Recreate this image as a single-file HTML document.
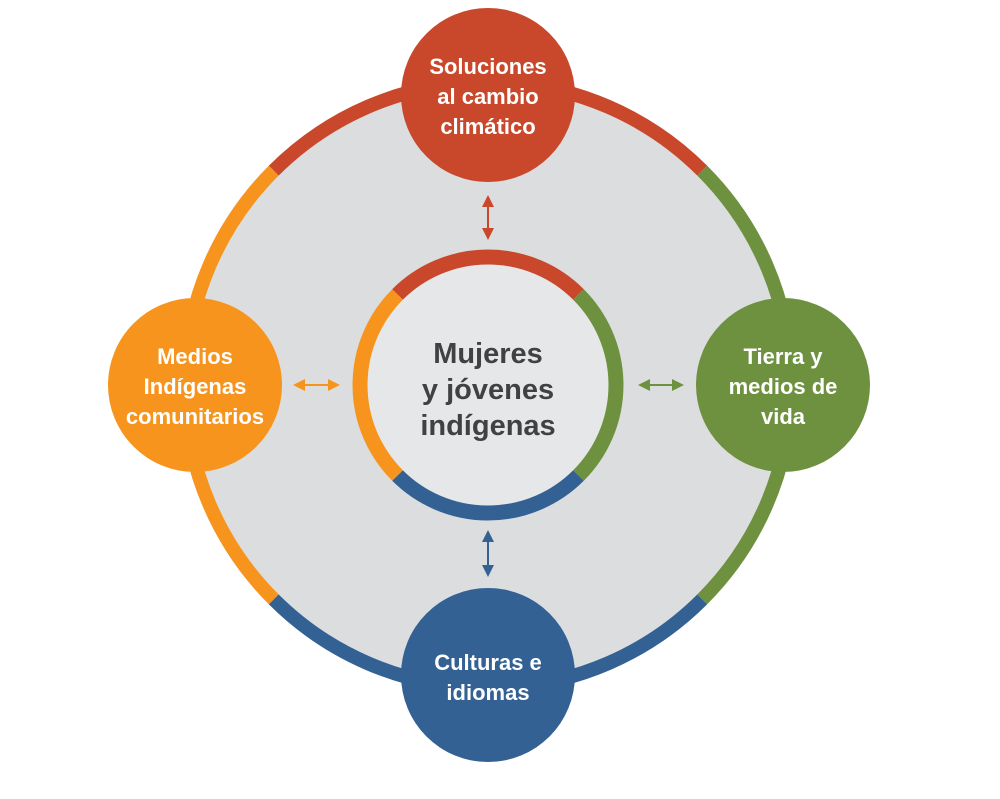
<!DOCTYPE html>
<html><head><meta charset="utf-8"><style>html,body{margin:0;padding:0;background:#fff}svg{display:block}</style></head>
<body>
<svg width="1000" height="799" viewBox="0 0 1000 799" xmlns="http://www.w3.org/2000/svg" font-family="Liberation Sans, sans-serif" font-weight="bold">
<defs>
<marker id="r" markerWidth="6" markerHeight="6" refX="5" refY="3" orient="auto-start-reverse"><path d="M0,0 L6,3 L0,6 z" fill="#c9472b"/></marker>
<marker id="b" markerWidth="6" markerHeight="6" refX="5" refY="3" orient="auto-start-reverse"><path d="M0,0 L6,3 L0,6 z" fill="#336193"/></marker>
<marker id="o" markerWidth="6" markerHeight="6" refX="5" refY="3" orient="auto-start-reverse"><path d="M0,0 L6,3 L0,6 z" fill="#f7941d"/></marker>
<marker id="g" markerWidth="6" markerHeight="6" refX="5" refY="3" orient="auto-start-reverse"><path d="M0,0 L6,3 L0,6 z" fill="#6e9140"/></marker>
</defs>
<circle cx="488" cy="385" r="303" fill="#dcdddf"/>
<g fill="none" stroke-width="14">
<path d="M273.7,170.7 A303,303 0 0 1 702.3,170.7" stroke="#c9472b"/>
<path d="M702.3,170.7 A303,303 0 0 1 702.3,599.3" stroke="#6e9140"/>
<path d="M702.3,599.3 A303,303 0 0 1 273.7,599.3" stroke="#336193"/>
<path d="M273.7,599.3 A303,303 0 0 1 273.7,170.7" stroke="#f7941d"/>
</g>
<circle cx="488" cy="385" r="128" fill="#e6e7e8"/>
<g fill="none" stroke-width="15">
<path d="M397.5,294.5 A128,128 0 0 1 578.5,294.5" stroke="#c9472b"/>
<path d="M578.5,294.5 A128,128 0 0 1 578.5,475.5" stroke="#6e9140"/>
<path d="M578.5,475.5 A128,128 0 0 1 397.5,475.5" stroke="#336193"/>
<path d="M397.5,475.5 A128,128 0 0 1 397.5,294.5" stroke="#f7941d"/>
</g>
<text x="488" y="363" text-anchor="middle" font-size="29" fill="#414143">Mujeres</text>
<text x="488" y="399" text-anchor="middle" font-size="29" fill="#414143">y jóvenes</text>
<text x="488" y="435" text-anchor="middle" font-size="29" fill="#414143">indígenas</text>
<g stroke-width="2">
<line x1="488" y1="197" x2="488" y2="238" stroke="#c9472b" marker-start="url(#r)" marker-end="url(#r)"/>
<line x1="488" y1="532" x2="488" y2="575" stroke="#336193" marker-start="url(#b)" marker-end="url(#b)"/>
<line x1="295" y1="385" x2="338" y2="385" stroke="#f7941d" marker-start="url(#o)" marker-end="url(#o)"/>
<line x1="640" y1="385" x2="682" y2="385" stroke="#6e9140" marker-start="url(#g)" marker-end="url(#g)"/>
</g>
<circle cx="488" cy="95" r="87" fill="#c9472b"/>
<circle cx="783" cy="385" r="87" fill="#6e9140"/>
<circle cx="488" cy="675" r="87" fill="#336193"/>
<circle cx="195" cy="385" r="87" fill="#f7941d"/>
<g fill="#fff" font-size="22" text-anchor="middle">
<text x="488" y="74">Soluciones</text><text x="488" y="104">al cambio</text><text x="488" y="134">climático</text>
<text x="783" y="364">Tierra y</text><text x="783" y="394">medios de</text><text x="783" y="424">vida</text>
<text x="488" y="670">Culturas e</text><text x="488" y="700">idiomas</text>
<text x="195" y="364">Medios</text><text x="195" y="394">Indígenas</text><text x="195" y="424">comunitarios</text>
</g>
</svg>
</body></html>
